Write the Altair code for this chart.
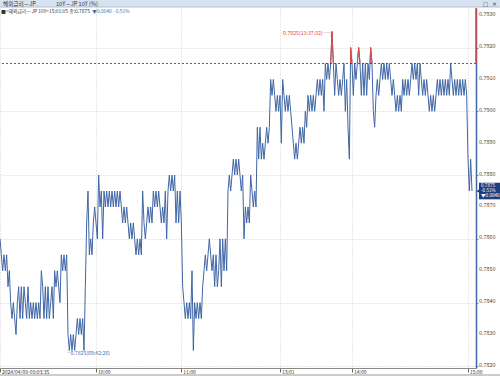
import altair as alt
import pandas as pd

# ---------------- data ----------------
# 10Y JGB yield, sampled ticks (read from the picture)
session_1 = [  # 09:03 - 10:00
    0.7860, 0.7855, 0.7850, 0.7855, 0.7850, 0.7855, 0.7845, 0.7850, 0.7840, 0.7835, 0.7840, 0.7835, 0.7830,
    0.7840, 0.7845, 0.7835, 0.7845, 0.7835, 0.7845, 0.7840, 0.7835, 0.7845, 0.7835,
    0.7840, 0.7835, 0.7840, 0.7835, 0.7840, 0.7835, 0.7840, 0.7835,
    0.7850, 0.7845, 0.7835, 0.7845, 0.7835, 0.7845, 0.7835, 0.7840, 0.7845, 0.7835,
    0.7850, 0.7845, 0.7850, 0.7845, 0.7840,
    0.7855, 0.7850, 0.7855, 0.7850, 0.7855,
    0.7830, 0.7825, 0.7830, 0.7825, 0.7830, 0.7825, 0.7830,
    0.7835, 0.7830, 0.7835, 0.7830, 0.7835, 0.7825,
    0.7845, 0.7865, 0.7875,
    0.7855, 0.7860, 0.7855,
    0.7865, 0.7870, 0.7865, 0.7860,
    0.7880, 0.7870, 0.7875, 0.7860,
]
session_2 = [  # 10:00 - 11:30
    0.7875, 0.7870, 0.7875, 0.7870, 0.7875, 0.7870, 0.7875, 0.7870, 0.7875, 0.7870, 0.7875, 0.7870,
    0.7875, 0.7870, 0.7865, 0.7870, 0.7865, 0.7870, 0.7865,
    0.7860, 0.7865, 0.7860, 0.7865,
    0.7860, 0.7855, 0.7860, 0.7855, 0.7860, 0.7855,
    0.7875, 0.7865, 0.7860, 0.7865,
    0.7870, 0.7865, 0.7870, 0.7865,
    0.7875, 0.7870, 0.7875, 0.7870, 0.7875,
    0.7870, 0.7865, 0.7870, 0.7865,
    0.7875, 0.7860, 0.7875,
    0.7880, 0.7875, 0.7880, 0.7875, 0.7880,
    0.7865, 0.7875, 0.7865, 0.7875, 0.7865,
    0.7845, 0.7840, 0.7835, 0.7840, 0.7835, 0.7840, 0.7835,
    0.7850, 0.7825,
    0.7840, 0.7835, 0.7840, 0.7835, 0.7840, 0.7835,
    0.7845, 0.7850, 0.7855, 0.7850, 0.7855, 0.7860, 0.7855,
    0.7850, 0.7855, 0.7845, 0.7855, 0.7845, 0.7850,
    0.7860, 0.7845, 0.7860, 0.7850, 0.7860, 0.7850,
]
session_3 = [  # 12:30 - 13:50
    0.7875, 0.7880, 0.7875, 0.7880, 0.7885, 0.7880, 0.7885, 0.7880, 0.7885,
    0.7880, 0.7875, 0.7880, 0.7860,
    0.7870, 0.7865, 0.7870, 0.7865, 0.7880, 0.7875, 0.7870, 0.7875, 0.7870,
    0.7895, 0.7885, 0.7895, 0.7885, 0.7890, 0.7885, 0.7890, 0.7895, 0.7890, 0.7895,
    0.7910, 0.7905, 0.7910, 0.7905, 0.7900, 0.7905, 0.7900, 0.7905, 0.7890,
    0.7910, 0.7905, 0.7900, 0.7905, 0.7900, 0.7905, 0.7900, 0.7895,
    0.7890, 0.7885, 0.7890, 0.7885, 0.7890, 0.7895, 0.7890, 0.7895, 0.7890,
    0.7900, 0.7895, 0.7905, 0.7900, 0.7905, 0.7900, 0.7905, 0.7900, 0.7905,
    0.7910, 0.7905, 0.7910, 0.7905, 0.7910, 0.7900,
    0.7915, 0.7910, 0.7915, 0.7910, 0.7915,
    0.7925, 0.7915, 0.7905, 0.7915,
    0.7910, 0.7905, 0.7910, 0.7905, 0.7910, 0.7915,
    0.7900, 0.7910, 0.7895, 0.7885,
]
session_4 = [  # 13:50 - 15:01
    0.7920, 0.7915, 0.7905,
    0.7915, 0.7910, 0.7915, 0.7920,
    0.7915, 0.7905, 0.7915, 0.7905, 0.7915, 0.7905, 0.7915, 0.7910, 0.7920, 0.7915,
    0.7900, 0.7895, 0.7905, 0.7910, 0.7905, 0.7910,
    0.7915, 0.7910, 0.7915, 0.7910, 0.7915, 0.7910, 0.7915,
    0.7910, 0.7905, 0.7910, 0.7905, 0.7900, 0.7905, 0.7900, 0.7905, 0.7900,
    0.7910, 0.7905, 0.7910, 0.7905, 0.7910, 0.7905, 0.7910,
    0.7915, 0.7910, 0.7915, 0.7910, 0.7915,
    0.7905, 0.7915, 0.7910, 0.7905, 0.7910, 0.7905, 0.7910,
    0.7905, 0.7900, 0.7905, 0.7900, 0.7905, 0.7900, 0.7905,
    0.7910, 0.7905, 0.7910, 0.7905, 0.7910, 0.7905, 0.7910, 0.7905, 0.7910, 0.7905,
    0.7915, 0.7910, 0.7905, 0.7910, 0.7905, 0.7910, 0.7905, 0.7910, 0.7905, 0.7910, 0.7905, 0.7910,
    0.7905, 0.7885, 0.7875, 0.7885, 0.7875,
]
values = session_1 + session_2 + session_3 + session_4

prev_close = 0.7915
tick_index = [0, 72, 136, 210, 264, 351]
tick_label = ["2024/04/09-09:03:35", "10:00", "11:00", "13:01", "14:00", "15:00"]
y_ticks = [0.7820, 0.7830, 0.7840, 0.7850, 0.7860, 0.7870, 0.7880,
           0.7890, 0.7900, 0.7910, 0.7920, 0.7930]
min_label = "└0.7825(09:42:26)"
max_label = "0.7925(13:37:32)─┐"
header_left = "해외금리－JP"
header_mid = "10Y－JP 10Y (%)"
info_left = "■<해외금리－JP 10Y>15:01:05 종:0.7875"
info_right = "▼0.0040  - 0.51%"
box_lines = ["0.7875", "-0.51%", "▼0.0040"]

# ---------------- styling ----------------
FONT = "Noto Sans CJK KR"
BLUE = "#3f66a6"
RED = "#dc4a44"
NAVY = "#1f3d7a"
W, H = 476, 360

df = pd.DataFrame({"i": list(range(len(values))), "v": values})
xs = alt.Scale(domain=[0, 357], nice=False, zero=False)
ys = alt.Scale(domain=[0.78195, 0.79324], nice=False, zero=False)

expr = "''"
for t, lab in reversed(list(zip(tick_index, tick_label))):
    expr = f"datum.value == {t} ? '{lab}' : ({expr})"

x_axis = alt.Axis(values=tick_index, labelExpr=expr, grid=True, gridDash=[1, 2],
                  gridColor="#c4c4c4", gridWidth=0.8, tickSize=4, tickColor="#666",
                  domainColor="#8a8a8a", labelAlign="left", labelBaseline="top",
                  labelPadding=-3, labelOffset=1.5, labelFlush=False, labelOverlap=False,
                  labelBound=False, labelFontSize=5, labelColor="#333", labelFont=FONT,
                  title=None)
y_axis = alt.Axis(orient="right", values=y_ticks, labels=False, grid=True,
                  gridDash=[1, 2], gridColor="#c4c4c4", gridWidth=0.8,
                  domainColor=BLUE, domainWidth=1.5, tickSize=2, tickColor="#888",
                  title=None)

line = alt.Chart(df).mark_line(color=BLUE, strokeWidth=1).encode(
    x=alt.X("i:Q", scale=xs, axis=x_axis),
    y=alt.Y("v:Q", scale=ys, axis=y_axis),
)

# y tick labels on the right
ylab = alt.Chart(pd.DataFrame({"v": y_ticks})).mark_text(
    align="left", baseline="middle", fontSize=5.4, font=FONT, color="#444", dy=-1.5
).encode(x=alt.value(W + 3), y=alt.Y("v:Q", scale=ys), text=alt.Text("v:Q", format=".4f"))

# portions of the line above the previous close, drawn in red
segs = []
for k in range(len(values) - 1):
    a, b = values[k], values[k + 1]
    if max(a, b) > prev_close + 1e-9:
        x1, y1, x2, y2 = k, a, k + 1, b
        if a < prev_close:
            x1 = k + (prev_close - a) / (b - a)
            y1 = prev_close
        if b < prev_close:
            x2 = k + (prev_close - a) / (b - a)
            y2 = prev_close
        segs.append({"x": x1, "y": y1, "x2": x2, "y2": y2})
red_df = pd.DataFrame(segs)
red = alt.Chart(red_df).mark_rule(color=RED, strokeWidth=1).encode(
    x=alt.X("x:Q", scale=xs), x2="x2:Q",
    y=alt.Y("y:Q", scale=ys), y2="y2:Q",
)

prev = alt.Chart(pd.DataFrame({"v": [prev_close]})).mark_rule(
    color="#333", strokeDash=[2, 2], strokeWidth=0.8
).encode(y=alt.Y("v:Q", scale=ys))

red_axis = alt.Chart(pd.DataFrame({"a": [0.79324], "b": [prev_close]})).mark_rule(
    color=RED, strokeWidth=1.5
).encode(x=alt.value(W), y=alt.Y("a:Q", scale=ys), y2="b:Q")

imin = int(df["v"].idxmin())
imax = int(df["v"].idxmax())
min_df = pd.DataFrame({"i": [imin], "v": [values[imin]], "t": [min_label]})
max_df = pd.DataFrame({"i": [imax], "v": [values[imax]], "t": [max_label]})
min_txt = alt.Chart(min_df).mark_text(
    align="left", baseline="middle", dx=-4, dy=3, fontSize=5.2, font=FONT, color="#4a6fb0"
).encode(x=alt.X("i:Q", scale=xs), y=alt.Y("v:Q", scale=ys), text="t:N")
max_txt = alt.Chart(max_df).mark_text(
    align="right", baseline="middle", dx=1, dy=1, fontSize=5.2, font=FONT, color=RED
).encode(x=alt.X("i:Q", scale=xs), y=alt.Y("v:Q", scale=ys), text="t:N")

last = values[-1]
box_df = pd.DataFrame({"a": [last + 0.00026], "b": [last - 0.00026], "v": [last]})
box = alt.Chart(box_df).mark_rect(color=NAVY).encode(
    x=alt.value(479), x2=alt.value(500), y=alt.Y("a:Q", scale=ys), y2="b:Q")
notch = alt.Chart(box_df).mark_point(shape="triangle-left", filled=True, size=14,
                                     color=NAVY, opacity=1).encode(
    x=alt.value(478), y=alt.Y("v:Q", scale=ys))
box_txt = [
    alt.Chart(box_df).mark_text(align="left", baseline="middle", dy=d, fontSize=4.6,
                                font=FONT, color="white").encode(
        x=alt.value(481), y=alt.Y("v:Q", scale=ys), text=alt.value(s))
    for s, d in zip(box_lines, [-5, 0, 5])
]

one = pd.DataFrame({"a": [0]})
hdr_bg = alt.Chart(one).mark_rect(color="#d6e2f0").encode(
    x=alt.value(0), x2=alt.value(500), y=alt.value(-8), y2=alt.value(-1))
hdr_line = alt.Chart(one).mark_rule(color="#aebfd6").encode(
    x=alt.value(0), x2=alt.value(500), y=alt.value(-1))
bottom_line = alt.Chart(one).mark_rule(color="#9a9a9a").encode(
    x=alt.value(0), x2=alt.value(500), y=alt.value(367))


def txt(s, x, y, color="#333", size=6, font=FONT):
    return alt.Chart(one).mark_text(align="left", baseline="middle", fontSize=size,
                                    font=font, color=color).encode(
        x=alt.value(x), y=alt.value(y), text=alt.value(s))


texts = [
    txt(header_left, 3, -4.2, "#333", 5.6),
    txt(header_mid, 56, -4.2, "#333", 5.6),
    txt("□", 483, -4.2, "#333", 5.5, "DejaVu Sans"),
    txt("×", 492, -4.2, "#333", 6, "DejaVu Sans"),
    txt(info_left, 1, 3.5, "#333", 4.9),
    txt(info_right, 92, 3.5, "#4a6fb0", 4.9),
]

chart = alt.layer(
    hdr_bg, hdr_line, line, red, prev, red_axis, ylab, min_txt, max_txt,
    box, notch, *box_txt, bottom_line, *texts
).properties(
    width=W, height=H,
    autosize=alt.AutoSizeParams(type="none"),
    padding={"left": 0, "top": 8, "right": 24, "bottom": 8},
    background="white",
).configure_view(stroke=None).configure_axis(labelOverlap=False)

chart.save("out.html", embed_options={"renderer": "svg", "actions": False})
